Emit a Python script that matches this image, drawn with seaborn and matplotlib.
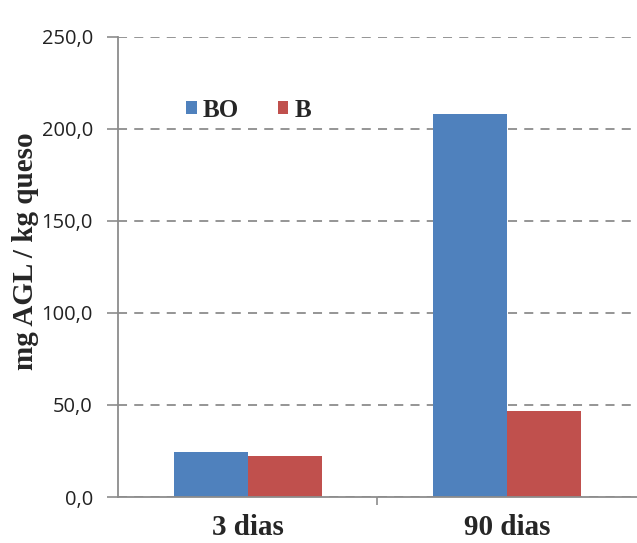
import matplotlib
matplotlib.use("Agg")
import matplotlib.pyplot as plt
import seaborn as sns
import pandas as pd
from matplotlib.ticker import FuncFormatter, FixedLocator

categories = ["3 dias", "90 dias"]
series = ["BO", "B"]
values_BO = [24.5, 208.0]
values_B = [22.5, 46.7]
yticks = [0, 50, 100, 150, 200, 250]

df = pd.DataFrame({
    "cat": categories * 2,
    "serie": ["BO"] * 2 + ["B"] * 2,
    "val": values_BO + values_B,
})

sns.set_style("white")
plt.rcParams["font.family"] = ["Liberation Sans", "DejaVu Sans"]

fig = plt.figure(figsize=(6.37, 5.43), dpi=100)
ax = fig.add_axes([0.185, 0.0847, 0.815, 0.8473])

palette = {"BO": "#4F81BD", "B": "#C0504D"}
sns.barplot(data=df, x="cat", y="val", hue="serie", hue_order=series,
            order=categories, palette=palette, width=0.57, saturation=1,
            edgecolor="none", ax=ax, legend=True)

ax.set_ylim(0, 250)
ax.set_xlim(-0.5, 1.5)
ax.set_yticks(yticks)
ax.yaxis.set_major_formatter(FuncFormatter(lambda v, p: f"{v:.1f}".replace(".", ",")))
ax.grid(axis="y", color="#8c8c8c", linestyle=(0, (5, 4)), linewidth=1.3)
ax.set_axisbelow(True)

for s in ["top", "right"]:
    ax.spines[s].set_visible(False)
for s in ["left", "bottom"]:
    ax.spines[s].set_color("#8c8c8c")
    ax.spines[s].set_linewidth(1.3)

ax.tick_params(axis="y", length=8, width=1.2, color="#8c8c8c", direction="out",
               labelsize=14.5, labelcolor="#222222", left=True, pad=10)
for lab in ax.get_yticklabels():
    lab.set_family(["Open Sans", "DejaVu Sans"])

ax.set_xticks([0, 1])
ax.set_xticklabels(categories, fontsize=21, fontweight="bold",
                   family=["Liberation Serif", "DejaVu Serif"])
ax.tick_params(axis="x", length=0, pad=12)
ax.xaxis.set_minor_locator(FixedLocator([0.5]))
ax.tick_params(axis="x", which="minor", length=6, width=1.2, color="#8c8c8c",
               direction="out", bottom=True)

ax.set_xlabel("")
ax.set_ylabel("mg AGL / kg queso", fontsize=21, fontweight="bold",
              family=["Liberation Serif", "DejaVu Serif"])
ax.yaxis.set_label_coords(-0.152, 0.535)

leg = ax.legend(loc="upper left", bbox_to_anchor=(0.088, 0.915), ncol=2,
                frameon=False, handlelength=0.42, handleheight=0.42,
                handletextpad=0.25, columnspacing=1.55,
                prop={"family": "Liberation Serif", "weight": "bold", "size": 18})

fig.savefig("out.png", dpi=100)
